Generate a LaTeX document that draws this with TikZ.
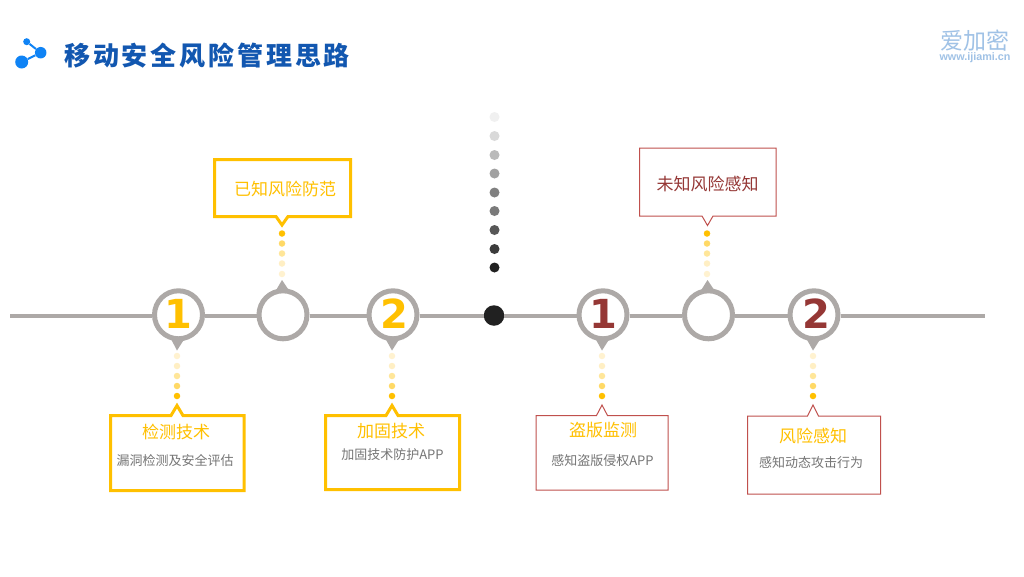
\documentclass[tikz,border=0pt]{standalone}
\usepackage{fontspec}
\setmainfont{Noto Sans CJK SC}
\newfontfamily\numfont{DejaVu Sans}
\newfontfamily\latinfont{Liberation Sans}
\usetikzlibrary{calc}
\definecolor{ringgray}{HTML}{ADA9A7}
\definecolor{gold}{HTML}{FFC000}
\definecolor{maroon}{HTML}{953735}
\definecolor{redline}{HTML}{C0504D}
\definecolor{bodygray}{HTML}{757575}
\definecolor{titleblue}{HTML}{1257B0}
\definecolor{iconblue}{HTML}{0F83F5}
\definecolor{logoblue}{HTML}{A0C2E6}
\definecolor{dotA}{HTML}{FFC000}
\definecolor{dotB}{HTML}{FFD966}
\definecolor{dotC}{HTML}{FFE699}
\definecolor{dotD}{HTML}{FFEFC4}
\definecolor{dotE}{HTML}{FFF2D0}
\tikzset{
  ring/.style={circle,draw=ringgray,fill=white,line width=5pt,minimum size=48pt,inner sep=0pt},
  tip/.style={fill=ringgray,draw=none},
  axis/.style={draw=ringgray,line width=4pt},
  goldbox/.style={draw=gold,fill=white,line width=3pt,miter limit=10},
  redbox/.style={draw=redline,fill=white,line width=1pt},
  head/.style={text=gold,font=\fontsize{17}{20}\selectfont,inner sep=0pt},
  headred/.style={text=maroon,font=\fontsize{17}{20}\selectfont,inner sep=0pt},
  body/.style={text=bodygray,font=\fontsize{13}{16}\selectfont,inner sep=0pt},
  digit/.style={inner sep=0pt,font=\numfont\bfseries\fontsize{40}{44}\selectfont},
  dotn/.style={circle,inner sep=0pt,minimum size=#1,draw=none},
  dotn/.default=6.5pt
}
% box with a pointer on the top edge: x1,y1,x2,y2,apex x,apex y,half base
\newcommand{\boxup}[8]{\path[#1] (#2,#3) -- ({#6-#8},#3) -- (#6,#7) -- ({#6+#8},#3) -- (#4,#3) -- (#4,#5) -- (#2,#5) -- cycle;}
\newcommand{\boxdown}[8]{\path[#1] (#2,#3) -- (#4,#3) -- (#4,#5) -- ({#6+#8},#5) -- (#6,#7) -- ({#6-#8},#5) -- (#2,#5) -- cycle;}
\begin{document}
\begin{tikzpicture}[x=1pt,y=-1pt]
\useasboundingbox (0,0) rectangle (1024,576);
\fill[white] (0,0) rectangle (1024,576);

% title icon
\node[dotn=13pt,fill=iconblue] (icA) at (21.7,62) {};
\node[dotn=11.5pt,fill=iconblue] (icB) at (40.7,52.7) {};
\node[dotn=7pt,fill=iconblue] (icC) at (26.7,41.7) {};
\draw[iconblue,line width=2pt] (icA) -- (icB) -- (icC);
\node[anchor=west,inner sep=0pt,text=titleblue,font=\bfseries\fontsize{26}{30}\selectfont\addfontfeature{LetterSpace=11}] (title) at (64,56) {移动安全风险管理思路};

% logo
\node[inner sep=0pt,text=logoblue,font=\fontsize{23}{26}\selectfont] (logoA) at (974.5,41) {爱加密};
\node[inner sep=0pt,text=logoblue,font=\latinfont\bfseries\fontsize{10.8}{12}\selectfont] (logoB) at (975,58) {www.ijiami.cn};

% timeline
\coordinate (axisL) at (10,315.5);
\coordinate (axisR) at (985,315.5);
\node[ring] (c1) at (178.5,314.8) {};
\node[ring] (c2) at (283,314.8) {};
\node[ring] (c3) at (393,314.8) {};
\node[circle,fill=black!87,minimum size=20.5pt,inner sep=0pt] (mid) at (494,315.5) {};
\node[ring] (c4) at (603,314.8) {};
\node[ring] (c5) at (708.5,314.8) {};
\node[ring] (c6) at (814,314.8) {};
\draw[axis] (axisL) -- (axisL -| c1.west)
  (c1.east |- axisL) -- (c2.west |- axisL)
  (c2.east |- axisL) -- (c3.west |- axisL)
  (c3.east |- axisL) -- (mid.west)
  (mid.east) -- (c4.west |- axisL)
  (c4.east |- axisL) -- (c5.west |- axisL)
  (c5.east |- axisL) -- (c6.west |- axisL)
  (c6.east |- axisL) -- (axisR);

% ring pointers
\fill[tip] (170.5,338) -- (177,350.5) -- (185,338) -- cycle;
\fill[tip] (385,338) -- (392,350.5) -- (400,338) -- cycle;
\fill[tip] (595,338) -- (602,350.5) -- (610,338) -- cycle;
\fill[tip] (806,338) -- (813,350.5) -- (821,338) -- cycle;
\fill[tip] (275,292) -- (282,280) -- (290,292) -- cycle;
\fill[tip] (700,292) -- (707.5,280) -- (715.5,292) -- cycle;

\node[digit,text=gold] (n1) at (178,314) {1};
\node[digit,text=gold] (n2) at (394,314) {2};
\node[digit,text=maroon] (n3) at (603,314) {1};
\node[digit,text=maroon] (n4) at (816,314) {2};

% dots below
\foreach \x/\k in {177/a,392/b,602/c,813/d}{
  \foreach \y/\c/\i in {356/dotE/1,366/dotD/2,376/dotC/3,386/dotB/4,396/dotA/5}{
    \node[dotn,fill=\c] (dn\k\i) at (\x,\y) {};
  }
}
% dots above
\foreach \x/\k in {282/a,707/b}{
  \foreach \y/\c/\i in {233.5/dotA/1,243.5/dotB/2,253.5/dotC/3,263.5/dotD/4,274/dotE/5}{
    \node[dotn,fill=\c] (up\k\i) at (\x,\y) {};
  }
}
% central gray dots
\foreach \y/\g/\i in {117/6/1,136/15/2,155/27/3,173.5/37/4,192.5/50/5,211/52/6,230/66/7,249/77/8,267.5/87/9}{
  \node[dotn=10pt,fill=black!\g] (gd\i) at (494.5,\y) {};
}

% boxes
\boxup{goldbox}{110.5}{415.5}{244}{490.5}{177}{405.5}{6}
\boxup{goldbox}{325.5}{415.5}{459.5}{489.5}{392}{405.5}{6}
\boxdown{goldbox}{214.5}{159.5}{350.5}{216.5}{282}{225}{6}
\boxup{redbox}{536}{415.5}{668}{490}{602}{405}{5.5}
\boxup{redbox}{747.5}{416}{880.5}{494}{813}{405}{5.5}
\boxdown{redbox}{639.5}{148}{776}{216}{707.5}{225.5}{5.5}

\node[head] (t1) at (176,432) {检测技术};
\node[body] (s1) at (175,460) {漏洞检测及安全评估};
\node[head] (t2) at (391,431.5) {加固技术};
\node[body] (s2) at (392.5,455) {加固技术防护APP};
\node[head] (t3) at (285,188.5) {已知风险防范};
\node[head] (t4) at (603,430) {盗版监测};
\node[body] (s4) at (602.5,460.5) {感知盗版侵权APP};
\node[head] (t5) at (813,436) {风险感知};
\node[body] (s5) at (811,462.5) {感知动态攻击行为};
\node[headred] (t6) at (707.5,184) {未知风险感知};
\end{tikzpicture}
\end{document}
